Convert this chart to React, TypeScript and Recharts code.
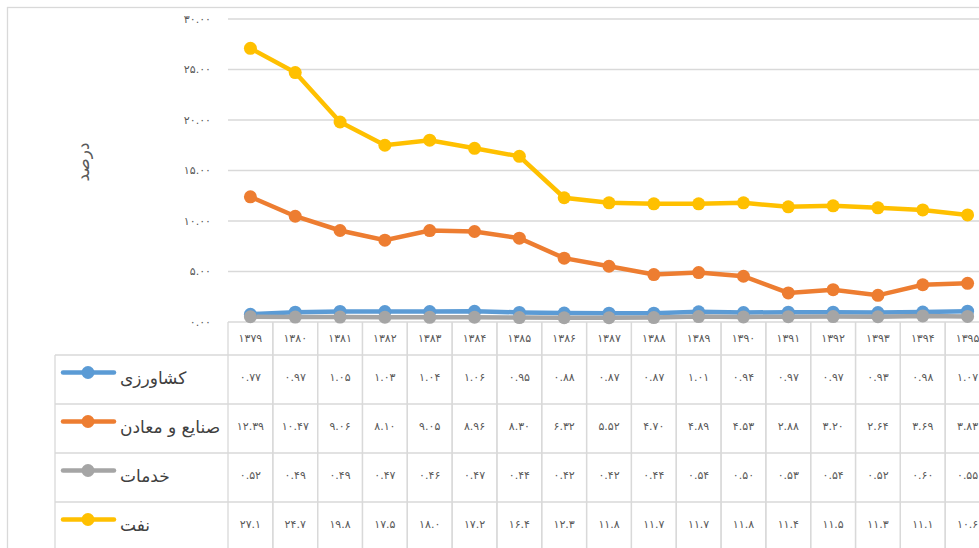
import React from 'react';
import { LineChart, Line, XAxis, YAxis, CartesianGrid } from 'recharts';

const years = ['۱۳۷۹', '۱۳۸۰', '۱۳۸۱', '۱۳۸۲', '۱۳۸۳', '۱۳۸۴', '۱۳۸۵', '۱۳۸۶', '۱۳۸۷', '۱۳۸۸', '۱۳۸۹', '۱۳۹۰', '۱۳۹۱', '۱۳۹۲', '۱۳۹۳', '۱۳۹۴', '۱۳۹۵'];
const agriculture = [0.77, 0.97, 1.05, 1.03, 1.04, 1.06, 0.95, 0.88, 0.87, 0.87, 1.01, 0.94, 0.97, 0.97, 0.93, 0.98, 1.07];
const industry = [12.39, 10.47, 9.06, 8.1, 9.05, 8.96, 8.3, 6.32, 5.52, 4.7, 4.89, 4.53, 2.88, 3.2, 2.64, 3.69, 3.83];
const services = [0.52, 0.49, 0.49, 0.47, 0.46, 0.47, 0.44, 0.42, 0.42, 0.44, 0.54, 0.5, 0.53, 0.54, 0.52, 0.6, 0.55];
const oil = [27.1, 24.7, 19.8, 17.5, 18.0, 17.2, 16.4, 12.3, 11.8, 11.7, 11.7, 11.8, 11.4, 11.5, 11.3, 11.1, 10.6];
const yTicks = [0, 5, 10, 15, 20, 25, 30];

const series = [
  { key: 'agriculture', name: 'کشاورزی', color: '#5B9BD5', values: agriculture, decimals: 2 },
  { key: 'industry', name: 'صنایع و معادن', color: '#ED7D31', values: industry, decimals: 2 },
  { key: 'services', name: 'خدمات', color: '#A5A5A5', values: services, decimals: 2 },
  { key: 'oil', name: 'نفت', color: '#FFC000', values: oil, decimals: 1 },
];

const data = years.map((year, i) => {
  const row: Record<string, string | number> = { year };
  series.forEach((s) => (row[s.key] = s.values[i]));
  return row;
});

const toFa = (s: string) => s.replace(/\d/g, (d) => '۰۱۲۳۴۵۶۷۸۹'[+d]);

const W = 1000;
const H = 560;
const LEFT = 228;
const RIGHT_M = 10;
const TOP = 19;
const BOTTOM = 322;
const COL_W = (W - LEFT - RIGHT_M) / years.length;
const ROW_Y = [355, 404, 453, 502, 551];
const GRID = '#D9D9D9';
const TXT = '#595959';
const FONT = '"DejaVu Sans", sans-serif';

const TableColumn = (props: any) => {
  const { x, payload } = props;
  const i = payload.index;
  const l = x - COL_W / 2;
  const r = x + COL_W / 2;
  return (
    <g>
      <line x1={l} x2={l} y1={BOTTOM} y2={H} stroke={GRID} strokeWidth={1.3} />
      <line x1={r} x2={r} y1={BOTTOM} y2={H} stroke={GRID} strokeWidth={1.3} />
      <text x={x} y={338} textAnchor="middle" dominantBaseline="central" fontSize={11} fill={TXT} fontFamily={FONT}>
        {years[i]}
      </text>
      {series.map((s, k) => (
        <text
          key={s.key}
          x={x}
          y={(ROW_Y[k] + ROW_Y[k + 1]) / 2 - 2}
          textAnchor="middle"
          dominantBaseline="central"
          fontSize={11}
          fill={TXT}
          fontFamily={FONT}
        >
          {toFa(s.values[i].toFixed(s.decimals))}
        </text>
      ))}
    </g>
  );
};

export default function App() {
  return (
    <div style={{ position: 'absolute', left: 0, top: 0, width: 979, height: 548, overflow: 'hidden', background: '#fff' }}>
      <svg width={W} height={H} style={{ position: 'absolute', left: 0, top: 0 }}>
        <rect x={7.5} y={7.5} width={W} height={H} fill="#fff" stroke={GRID} strokeWidth={1.3} />
        <text
          transform="translate(83,162) rotate(-90)"
          textAnchor="middle"
          dominantBaseline="central"
          fontSize={17}
          fill={TXT}
          fontFamily={FONT}
        >
          درصد
        </text>
        {ROW_Y.map((y) => (
          <line key={y} x1={55} x2={W} y1={y} y2={y} stroke={GRID} strokeWidth={1.3} />
        ))}
        <line x1={55} x2={55} y1={ROW_Y[0]} y2={H} stroke={GRID} strokeWidth={1.3} />
        {series.map((s, k) => {
          const cy = (ROW_Y[k] + ROW_Y[k + 1]) / 2;
          return (
            <g key={s.key}>
              <line x1={63} x2={114} y1={cy - 7} y2={cy - 7} stroke={s.color} strokeWidth={4.5} strokeLinecap="round" />
              <circle cx={88} cy={cy - 7} r={6.5} fill={s.color} />
              <text x={120} y={cy - 2} dominantBaseline="central" fontSize={17} fill="#404040" fontFamily={FONT}>
                {s.name}
              </text>
            </g>
          );
        })}
      </svg>
      <div style={{ position: 'absolute', left: 0, top: 0 }}>
        <LineChart width={W} height={H} data={data} margin={{ top: TOP, right: RIGHT_M, left: 0, bottom: 0 }}>
          <CartesianGrid vertical={false} stroke={GRID} strokeWidth={1.3} />
          <XAxis
            dataKey="year"
            scale="band"
            height={H - BOTTOM}
            axisLine={false}
            tickLine={false}
            interval={0}
            tick={<TableColumn />}
          />
          <YAxis
            width={LEFT}
            domain={[0, 30]}
            ticks={yTicks}
            axisLine={false}
            tickLine={false}
            tickMargin={11}
            tick={{ fontSize: 11, fill: TXT, fontFamily: FONT }}
            tickFormatter={(v: number) => toFa(v.toFixed(2))}
          />
          {series.map((s) => (
            <Line
              key={s.key}
              dataKey={s.key}
              name={s.name}
              stroke={s.color}
              strokeWidth={4.5}
              dot={{ r: 6.5, fill: s.color, stroke: 'none' }}
              activeDot={false}
              isAnimationActive={false}
            />
          ))}
        </LineChart>
      </div>
    </div>
  );
}
